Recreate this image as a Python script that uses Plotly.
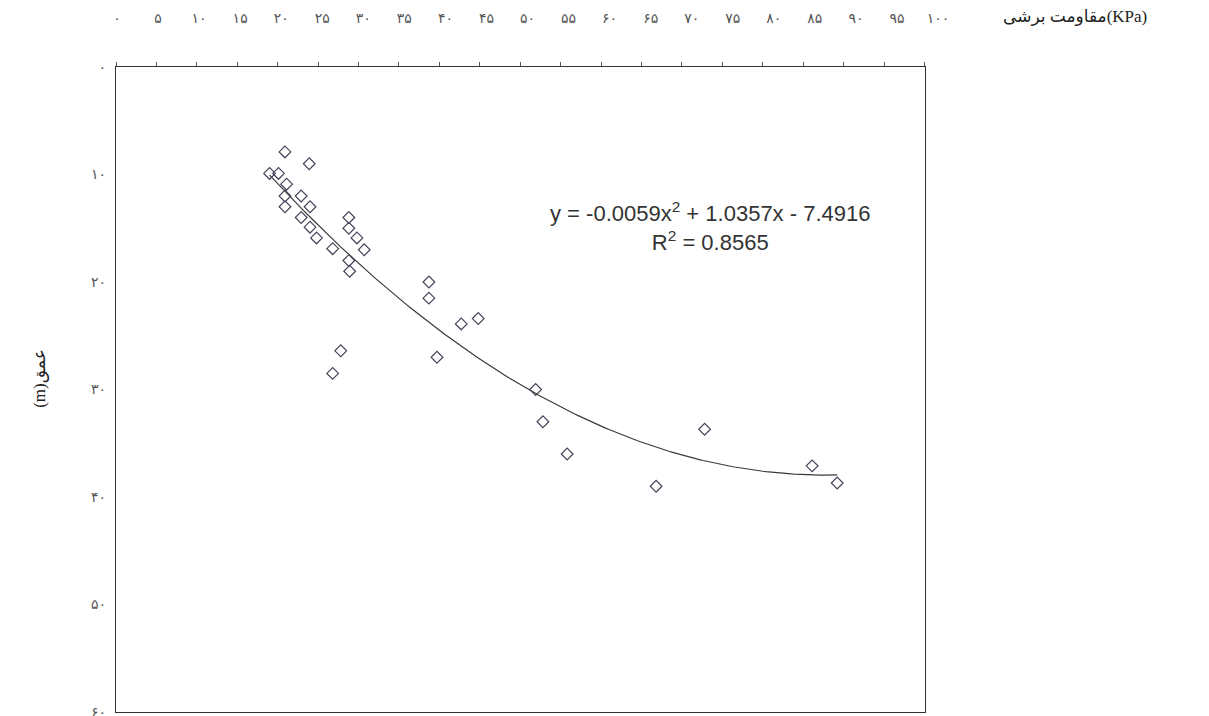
import numpy as np
import plotly.graph_objects as go

# Shear strength (KPa) and depth (m) of the samples
shear_kpa = [19.0, 20.1, 20.9, 21.1, 20.9, 20.9, 22.9, 22.9, 23.9, 24.0, 24.0,
             24.8, 26.8, 28.8, 28.8, 28.8, 28.9, 29.8, 30.7, 27.8, 26.8,
             38.7, 38.7, 42.7, 44.8, 39.7, 51.9, 52.8, 55.8, 66.8, 72.8,
             86.1, 89.2]
depth_m = [9.9, 9.9, 7.9, 10.9, 12.0, 13.0, 12.0, 14.0, 9.0, 13.0, 14.9,
           15.9, 16.9, 14.0, 15.0, 18.0, 19.0, 15.9, 17.0, 26.4, 28.5,
           20.0, 21.5, 23.9, 23.4, 27.0, 30.0, 33.0, 36.0, 39.0, 33.7,
           37.1, 38.7]

# Second-order polynomial trendline: depth = a*s^2 + b*s + c
trend_coef = [-0.0059, 1.0357, -7.4916]
r_squared = 0.8565

x_tick_vals = list(range(0, 101, 5))
x_tick_text = ['۰', '۵', '۱۰', '۱۵', '۲۰', '۲۵', '۳۰', '۳۵', '۴۰', '۴۵', '۵۰',
               '۵۵', '۶۰', '۶۵', '۷۰', '۷۵', '۸۰', '۸۵', '۹۰', '۹۵', '۱۰۰']
y_tick_vals = [0, 10, 20, 30, 40, 50, 60]
y_tick_text = ['۰', '۱۰', '۲۰', '۳۰', '۴۰', '۵۰', '۶۰']

x_title = 'مقاومت برشی(KPa)'
y_title = '(m)عمق'

trend_x = np.linspace(min(shear_kpa), max(shear_kpa), 200)
trend_y = np.polyval(trend_coef, trend_x)

fig = go.Figure()
fig.add_trace(go.Scatter(
    x=trend_x, y=trend_y, mode='lines',
    line=dict(color='#3a3a3a', width=1.2),
    hoverinfo='skip', showlegend=False,
))
fig.add_trace(go.Scatter(
    x=shear_kpa, y=depth_m, mode='markers',
    marker=dict(symbol='diamond-open', size=9, color='#44445a',
                line=dict(width=1.2, color='#44445a')),
    showlegend=False,
))
# empty trace so the top label axis gets drawn
fig.add_trace(go.Scatter(x=[None], y=[None], xaxis='x2', yaxis='y',
                         mode='markers', showlegend=False, hoverinfo='skip'))

eq_text = ('y = %.4fx<sup>2</sup> + %.4fx - %.4f<br>R<sup>2</sup> = %.4f'
           % (trend_coef[0], trend_coef[1], -trend_coef[2], r_squared))

tick_font = dict(family='DejaVu Sans', size=14, color='#555')
title_font = dict(family='Liberation Serif, DejaVu Sans', size=17, color='#222')

fig.update_layout(
    width=1209, height=716,
    margin=dict(l=116, r=271, t=67, b=4, autoexpand=False),
    paper_bgcolor='white', plot_bgcolor='rgba(0,0,0,0)',
    xaxis=dict(
        domain=[0, 0.9836],
        range=[0, 100], side='top', tickvals=x_tick_vals,
        showticklabels=False, ticks='outside', ticklen=4,
        tickcolor='#555', showgrid=False, zeroline=False,
        showline=True, linecolor='#333', linewidth=1.2, mirror=True,
        automargin=False,
    ),
    # label-only axis for the top scale text
    xaxis2=dict(
        domain=[0.0012, 1], anchor='y', side='top', range=[0, 100],
        tickvals=x_tick_vals, ticktext=x_tick_text, ticks='',
        showgrid=False, zeroline=False, showline=False,
        ticklabelstandoff=40, ticklabeloverflow='allow',
        tickfont=tick_font, automargin=False,
    ),
    yaxis=dict(
        range=[60, 0], tickvals=y_tick_vals, ticktext=y_tick_text,
        ticks='', showgrid=False, zeroline=False,
        showline=True, linecolor='#333', linewidth=1.2, mirror=True,
        ticklabelstandoff=6, ticklabeloverflow='allow',
        tickfont=tick_font, automargin=False,
    ),
    annotations=[
        dict(text=eq_text, xref='paper', yref='paper', x=0.7226, y=0.752,
             xanchor='center', yanchor='middle',
             showarrow=False, align='center',
             font=dict(family='Liberation Sans, Arial', size=22, color='#333')),
        dict(text=x_title, xref='paper', yref='paper', x=1.1667, y=1.078,
             xanchor='center', yanchor='middle', showarrow=False,
             font=title_font),
        dict(text=y_title, xref='paper', yref='paper', x=-0.0925, y=0.518,
             xanchor='center', yanchor='middle', showarrow=False,
             textangle=-90, font=title_font),
    ],
)

fig.write_html('out.html')
